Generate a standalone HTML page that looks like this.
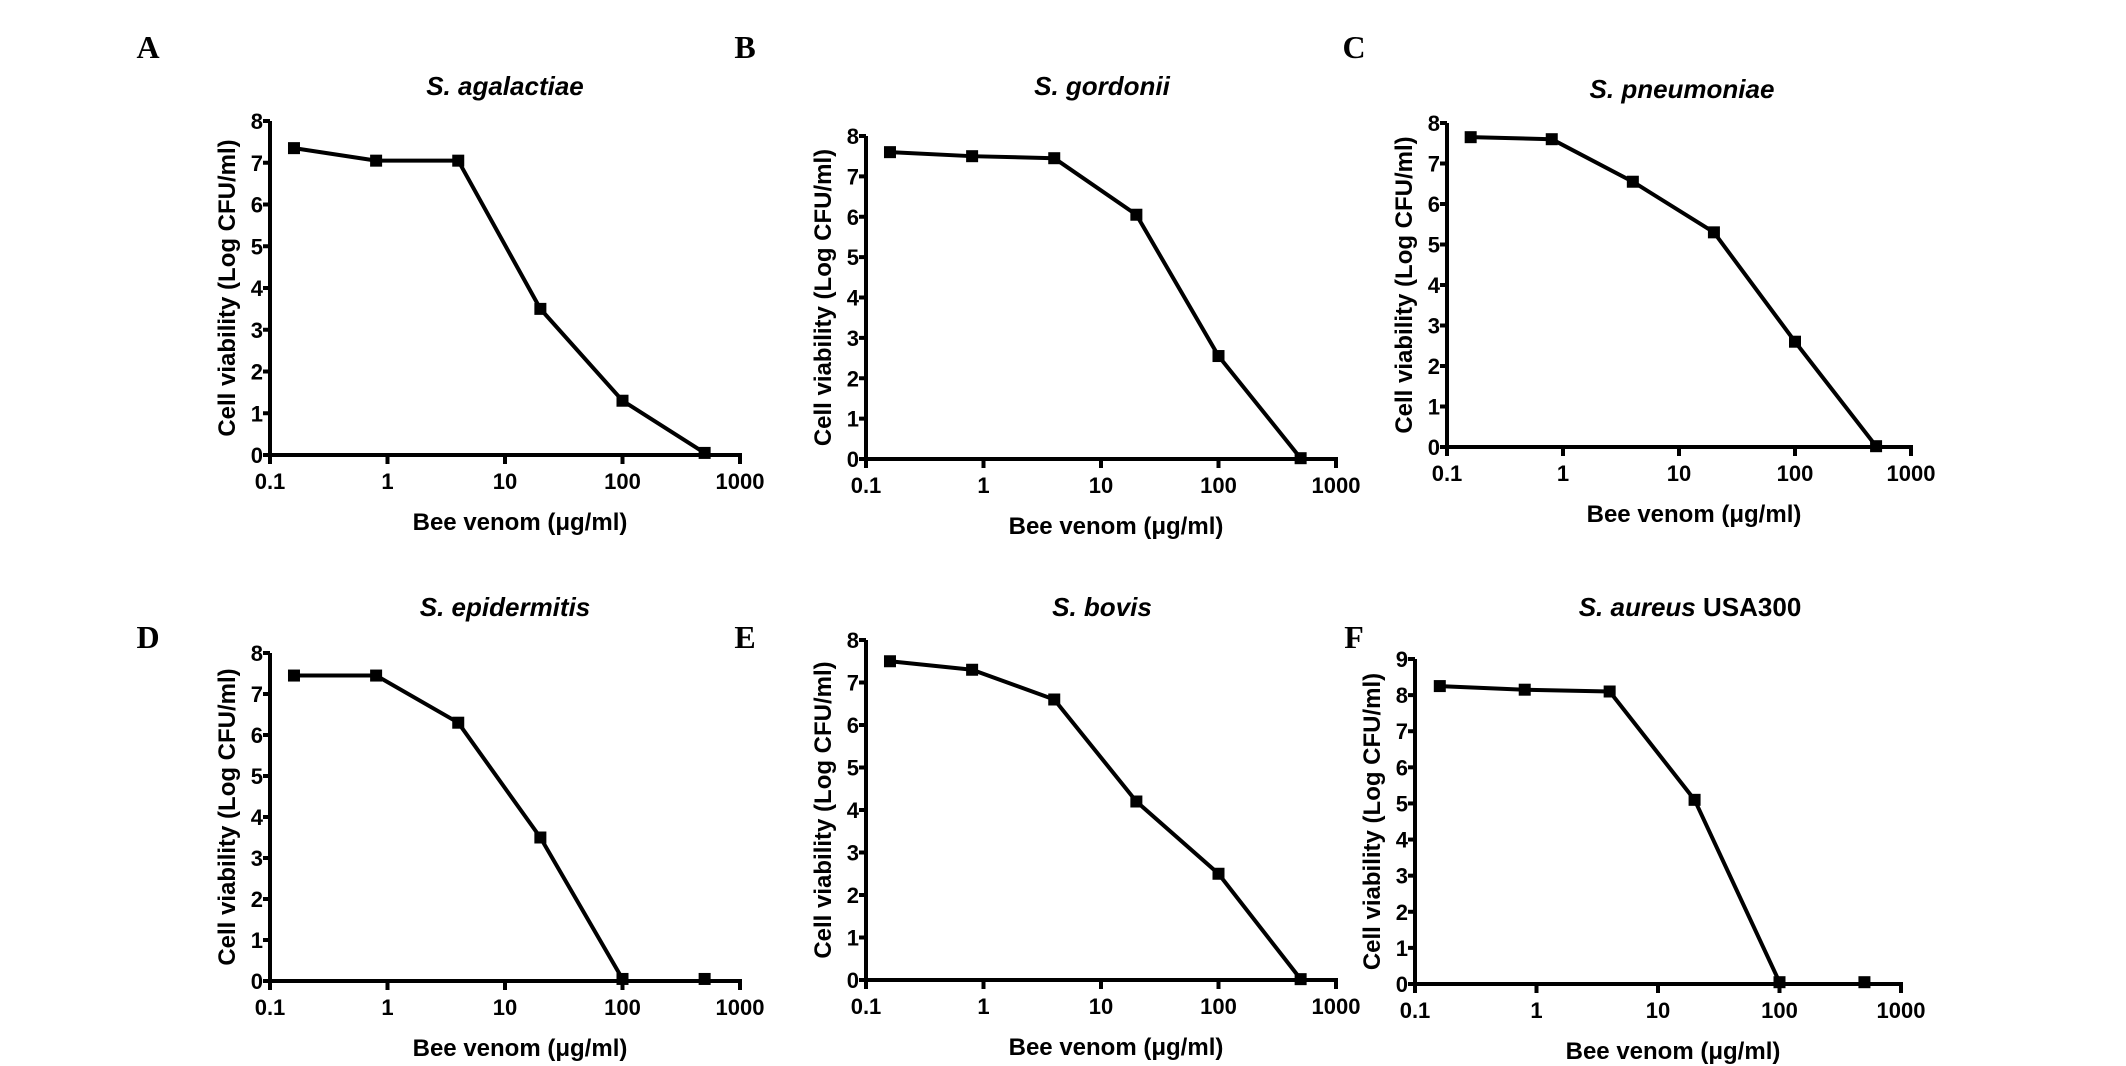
<!DOCTYPE html>
<html><head><meta charset="utf-8"><style>
html,body{margin:0;padding:0;background:#fff;}
svg{display:block;}
.tk{font-family:"Liberation Sans",Arial,sans-serif;font-weight:bold;font-size:22px;}
.at{font-family:"Liberation Sans",Arial,sans-serif;font-weight:bold;font-size:24px;}
.tt{font-family:"Liberation Sans",Arial,sans-serif;font-weight:bold;font-size:26px;}
.pl{font-family:"Liberation Serif","Times New Roman",serif;font-weight:bold;font-size:32px;}
</style></head><body>
<svg id="fig" width="2126" height="1066" viewBox="0 0 2126 1066" xmlns="http://www.w3.org/2000/svg"></svg>
<script>
const doses = [0.16, 0.8, 4, 20, 100, 500];
const xTicks = [0.1, 1, 10, 100, 1000];
const xTickLabels = ["0.1", "1", "10", "100", "1000"];
const seriesA = [7.35, 7.05, 7.05, 3.5, 1.3, 0.05];
const seriesB = [7.6, 7.5, 7.45, 6.05, 2.55, 0.02];
const seriesC = [7.65, 7.6, 6.55, 5.3, 2.6, 0.02];
const seriesD = [7.45, 7.45, 6.3, 3.5, 0.05, 0.05];
const seriesE = [7.5, 7.3, 6.6, 4.2, 2.5, 0.02];
const seriesF = [8.25, 8.15, 8.1, 5.1, 0.05, 0.05];
const titles = ["S. agalactiae","S. gordonii","S. pneumoniae","S. epidermitis","S. bovis","S. aureus"];
const letters = ["A","B","C","D","E","F"];

const NS = "http://www.w3.org/2000/svg";
const svg = document.getElementById('fig');
function mk(tag, attrs, parent){
  const e = document.createElementNS(NS, tag);
  for (const k in attrs) e.setAttribute(k, attrs[k]);
  (parent||svg).appendChild(e);
  return e;
}
const panels = [
  {s:seriesA, ax:270, yTop:121, y0:455, xEnd:740, ymax:8, lineTo:6, lx:148, ly:58, tx:505, ty:95},
  {s:seriesB, ax:866, yTop:136, y0:459, xEnd:1336, ymax:8, lineTo:6, lx:745, ly:58, tx:1102, ty:95},
  {s:seriesC, ax:1447, yTop:123, y0:447, xEnd:1911, ymax:8, lineTo:6, lx:1354, ly:58, tx:1682, ty:98},
  {s:seriesD, ax:270, yTop:653, y0:981, xEnd:740, ymax:8, lineTo:5, lx:148, ly:648, tx:505, ty:616},
  {s:seriesE, ax:866, yTop:640, y0:980, xEnd:1336, ymax:8, lineTo:6, lx:745, ly:648, tx:1102, ty:616},
  {s:seriesF, ax:1415, yTop:659, y0:984, xEnd:1901, ymax:9, lineTo:5, lx:1354, ly:648, tx:1690, ty:616}
];
panels.forEach((p, i) => {
  const g = mk('g', {});
  
  
  const xs = v => p.ax + (Math.log10(v) + 1) / 4 * (p.xEnd - p.ax);
  const ys = v => p.y0 - v / p.ymax * (p.y0 - p.yTop);
  const lt = mk('text', {x:p.lx, y:p.ly, class:'pl', 'text-anchor':'middle'}, g);
  lt.textContent = letters[i];
  
  
  const tt = mk('text', {x:p.tx, y:p.ty, class:'tt', 'text-anchor':'middle'}, g);
  const it = mk('tspan', {'font-style':'italic'}, tt); it.textContent = titles[i];
  if (i === 5) { const t2 = mk('tspan', {}, tt); t2.textContent = ' USA300'; }
  
  
  const yax = mk('line', {x1:p.ax, y1:p.yTop, x2:p.ax, y2:p.y0+2, stroke:'#000', 'stroke-width':4}, g);
  
  
  const xax = mk('line', {x1:p.ax-2, y1:p.y0, x2:p.xEnd+2, y2:p.y0, stroke:'#000', 'stroke-width':4}, g);
  
  
  for (let v = 0; v <= p.ymax; v++) {
    mk('line', {x1:p.ax-7, y1:ys(v), x2:p.ax, y2:ys(v), stroke:'#000', 'stroke-width':4}, g);
    const t = mk('text', {x:p.ax-7, y:ys(v)+8, class:'tk', 'text-anchor':'end'}, g);
    t.textContent = v;
    
    
  }
  xTicks.forEach((v, k) => {
    mk('line', {x1:xs(v), y1:p.y0, x2:xs(v), y2:p.y0+9, stroke:'#000', 'stroke-width':4}, g);
    const t = mk('text', {x:xs(v), y:p.y0+34, class:'tk', 'text-anchor':'middle'}, g);
    t.textContent = xTickLabels[k];
    
    
  });
  const xl = mk('text', {x:(p.ax+p.xEnd)/2 + 15, y:p.y0+75, class:'at', 'text-anchor':'middle'}, g);
  xl.textContent = 'Bee venom (\u03bcg/ml)';
  
  
  const cy = (p.yTop + p.y0) / 2;
  const yl = mk('text', {x:0, y:0, class:'at', 'text-anchor':'middle', transform:`translate(${p.ax-35},${cy}) rotate(-90)`}, g);
  yl.textContent = 'Cell viability (Log CFU/ml)';
  
  
  const pts = [];
  for (let k = 0; k < p.lineTo; k++) pts.push(xs(doses[k]) + ',' + ys(p.s[k]));
  const pl = mk('polyline', {points:pts.join(' '), fill:'none', stroke:'#000', 'stroke-width':4, 'stroke-linejoin':'round'}, g);
  
  
  doses.forEach((d, k) => {
    const r = mk('rect', {x:xs(d)-6, y:ys(p.s[k])-6, width:12, height:12, fill:'#000'}, g);
    
    
  });
});
</script>
</body></html>
